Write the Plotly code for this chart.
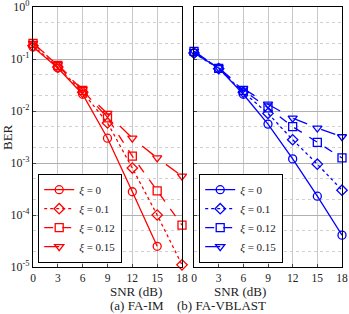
import plotly.graph_objects as go

snr = [0, 3, 6, 9, 12, 15, 18]
xi_labels = ["0", "0.1", "0.12", "0.15"]

# (a) FA-IM
im_xi0 = [0.17, 0.067, 0.021, 0.003, 2.8e-4, 2.5e-5, None]
im_xi01 = [0.18, 0.07, 0.023, 0.0059, 8.0e-4, 1.0e-4, 1.1e-5]
im_xi012 = [0.2, 0.075, 0.025, 0.0074, 1.35e-3, 2.9e-4, 6.4e-5]
im_xi015 = [0.2, 0.078, 0.026, 0.009, 3.0e-3, 1.25e-3, 5.6e-4]

# (b) FA-VBLAST
vb_xi0 = [0.13, 0.067, 0.021, 0.0056, 1.2e-3, 2.3e-4, 4.1e-5]
vb_xi01 = [0.13, 0.065, 0.023, 0.009, 2.8e-3, 9.5e-4, 3.0e-4]
vb_xi012 = [0.14, 0.066, 0.025, 0.0115, 5.0e-3, 2.5e-3, 1.25e-3]
vb_xi015 = [0.14, 0.068, 0.027, 0.0135, 7.3e-3, 4.7e-3, 3.2e-3]

ytick_vals = [1, 1e-1, 1e-2, 1e-3, 1e-4, 1e-5]
ytick_text = ["10<sup>0</sup>", "10<sup>-1</sup>", "10<sup>-2</sup>",
              "10<sup>-3</sup>", "10<sup>-4</sup>", "10<sup>-5</sup>"]

symbols = ["circle-open", "diamond-open", "square-open", "triangle-down-open"]
dashes = ["solid", "dot", "dash", "longdash"]

fig = go.Figure()
font = "Liberation Serif"

for series, color, xa, ya, leg in [
    ([im_xi0, im_xi01, im_xi012, im_xi015], "#ff0000", "x", "y", "legend"),
    ([vb_xi0, vb_xi01, vb_xi012, vb_xi015], "#0000ff", "x2", "y2", "legend2"),
]:
    for vals, lab, sym, dsh in zip(series, xi_labels, symbols, dashes):
        fig.add_trace(go.Scatter(
            x=snr, y=vals, mode="lines+markers",
            name="<i>ξ</i> = " + lab,
            line=dict(color=color, width=1.3, dash=dsh),
            marker=dict(symbol=sym, size=8, color=color, line=dict(width=1.3, color=color)),
            xaxis=xa, yaxis=ya, legend=leg, connectgaps=False, cliponaxis=False,
        ))

xdom1 = [33 / 349, 182 / 349]
xdom2 = [194 / 349, 342 / 349]
ydom = [1 - 267 / 314, 1 - 7 / 314]

xcommon = dict(range=[0, 18], tickvals=snr, showgrid=True, gridcolor="#c8c8c8",
               gridwidth=1, showline=True, linecolor="black", linewidth=1.2, mirror=True,
               ticks="inside", ticklen=3, tickfont=dict(family=font, size=11.5, color="#222"),
               ticklabeloverflow="allow", automargin=False, zeroline=False)
ycommon = dict(type="log", range=[-5, 0], tickvals=ytick_vals, showgrid=True,
               gridcolor="#b0b0b0", gridwidth=1, showline=True, linecolor="black",
               linewidth=1.2, mirror=True, ticks="inside", ticklen=3,
               minor=dict(showgrid=True, gridcolor="#d0d0d0", griddash="dot", gridwidth=1),
               zeroline=False, domain=ydom, automargin=False, ticklabeloverflow="allow")

fig.update_layout(
    width=349, height=314,
    margin=dict(l=0, r=0, t=0, b=0),
    paper_bgcolor="white", plot_bgcolor="white",
    font=dict(family=font, color="#222"),
    xaxis=dict(domain=xdom1, anchor="y", **xcommon),
    xaxis2=dict(domain=xdom2, anchor="y2", **xcommon),
    yaxis=dict(anchor="x", ticktext=ytick_text, tickfont=dict(family=font, size=12, color="#222"),
               **ycommon),
    yaxis2=dict(anchor="x2", showticklabels=False, **ycommon),
    legend=dict(x=38 / 349, y=1 - 263 / 314, xanchor="left", yanchor="bottom",
                bgcolor="white", bordercolor="black", borderwidth=1.2,
                font=dict(family=font, size=11, color="#222"), tracegroupgap=0,
                itemwidth=30),
    legend2=dict(x=199 / 349, y=1 - 263 / 314, xanchor="left", yanchor="bottom",
                 bgcolor="white", bordercolor="black", borderwidth=1.2,
                 font=dict(family=font, size=11, color="#222"), tracegroupgap=0,
                 itemwidth=30),
    showlegend=True,
)

ann_font = dict(family=font, size=13, color="#222")
for dom in (xdom1, xdom2):
    fig.add_annotation(text="SNR (dB)", x=(dom[0] + dom[1]) / 2, y=1 - 291 / 314,
                       xref="paper", yref="paper", showarrow=False, yanchor="middle",
                       font=ann_font)
fig.add_annotation(text="(a) FA-IM", x=(xdom1[0] + xdom1[1]) / 2, y=1 - 305.5 / 314,
                   xref="paper", yref="paper", showarrow=False, yanchor="middle",
                   font=ann_font)
fig.add_annotation(text="(b) FA-VBLAST", x=(xdom2[0] + xdom2[1]) / 2, y=1 - 305.5 / 314,
                   xref="paper", yref="paper", showarrow=False, yanchor="middle",
                   font=ann_font)
fig.add_annotation(text="BER", x=7 / 349, y=1 - 137 / 314, textangle=-90,
                   xref="paper", yref="paper", showarrow=False, xanchor="center",
                   yanchor="middle", font=ann_font)

fig.write_html("out.html", config={"displayModeBar": False},
               post_script="document.body.style.margin='0';document.body.style.overflow='hidden';")
